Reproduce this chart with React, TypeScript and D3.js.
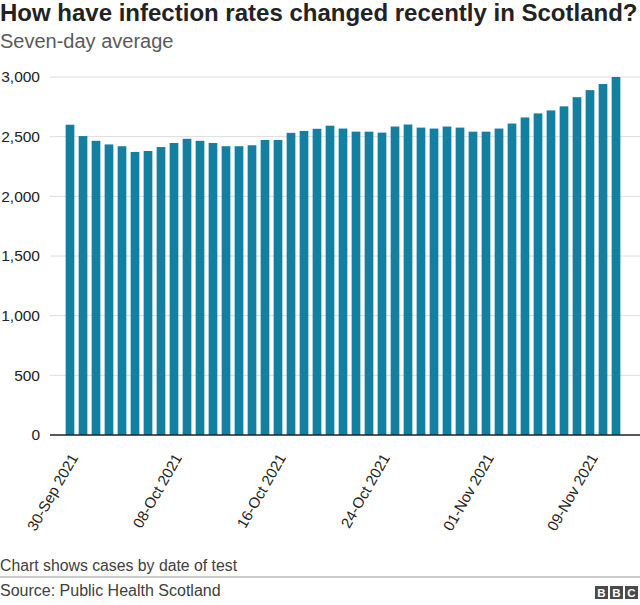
import React from "react";
import * as d3 from "d3";

const startDate = new Date(2021, 8, 30);
const values: number[] = [
  2600, 2505, 2465, 2435, 2420, 2372, 2380, 2413, 2447, 2482,
  2465, 2447, 2420, 2420, 2428, 2472, 2472, 2532, 2548, 2566,
  2592, 2568, 2542, 2542, 2534, 2585, 2602, 2576, 2568, 2585,
  2576, 2542, 2542, 2568, 2610, 2661, 2695, 2720, 2754, 2831,
  2890, 2941, 3000,
];
const dates: Date[] = values.map((_, i) => d3.timeDay.offset(startDate, i));
const yTicks = [0, 500, 1000, 1500, 2000, 2500, 3000];
const labelEvery = 8;

const W = 640;
const H = 605;
const FONT = "'Liberation Sans', Arial, Helvetica, sans-serif";

export default function App() {
  const fmt = d3.timeFormat("%d-%b %Y");
  const x = d3
    .scaleBand<string>()
    .domain(dates.map((d) => fmt(d)))
    .range([63.5, 622.5])
    .paddingInner(0.33)
    .paddingOuter(0.165);
  const y = d3.scaleLinear().domain([0, 3000]).range([435, 77]);
  const numFmt = d3.format(",");

  return (
    <svg
      width={W}
      height={H}
      style={{ position: "absolute", left: 0, top: 0, background: "#fff" }}
      fontFamily={FONT}
    >
      <text x={0} y={21} fontSize={24} fontWeight="bold" fill="#222">
        How have infection rates changed recently in Scotland?
      </text>
      <text x={0} y={48} fontSize={20} fill="#5a5a5a">
        Seven-day average
      </text>

      {yTicks.map((t) => (
        <g key={t}>
          {t > 0 && (
            <line x1={50} x2={640} y1={y(t)} y2={y(t)} stroke="#dcdcdc" strokeWidth={1} />
          )}
          <text x={40} y={y(t)} dy="0.35em" textAnchor="end" fontSize={15.5} fill="#222">
            {numFmt(t)}
          </text>
        </g>
      ))}

      {values.map((v, i) => {
        const key = fmt(dates[i]);
        return (
          <rect
            key={key}
            x={x(key)}
            y={y(v)}
            width={x.bandwidth()}
            height={y(0) - y(v)}
            fill="#1380A1"
          />
        );
      })}

      <line x1={50} x2={640} y1={y(0)} y2={y(0)} stroke="#222" strokeWidth={1.5} />

      {dates.map((d, i) => {
        if (i % labelEvery !== 0) return null;
        const key = fmt(d);
        const cx = (x(key) as number) + x.bandwidth() / 2;
        return (
          <text
            key={key}
            transform={`translate(${cx + 4},${y(0) + 20}) rotate(-60)`}
            textAnchor="end"
            dy="0.35em"
            fontSize={15}
            fill="#222"
          >
            {key}
          </text>
        );
      })}

      <text x={0} y={570.5} fontSize={15.8} fill="#404040">
        Chart shows cases by date of test
      </text>
      <line x1={0} x2={640} y1={577} y2={577} stroke="#999" strokeWidth={1} />
      <text x={0} y={596} fontSize={16} fill="#404040">
        Source: Public Health Scotland
      </text>
      {["B", "B", "C"].map((c, i) => (
        <g key={i}>
          <rect x={595 + i * 15} y={586} width={13} height={13} fill="#4a4a4a" />
          <text
            x={601.5 + i * 15}
            y={597}
            textAnchor="middle"
            fontSize={11.5}
            fontWeight="bold"
            fill="#fff"
          >
            {c}
          </text>
        </g>
      ))}
    </svg>
  );
}
